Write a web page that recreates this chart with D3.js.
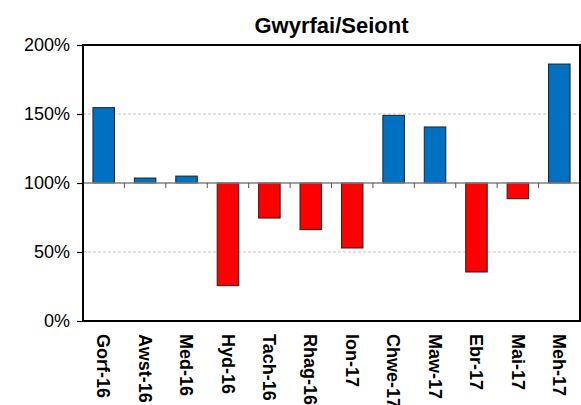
<!DOCTYPE html>
<html>
<head>
<meta charset="utf-8">
<script src="https://cdn.jsdelivr.net/npm/d3@7"></script>
<style>
  body { margin: 0; background: #fff; }
  text { font-family: "Liberation Sans", Arial, sans-serif; }
</style>
</head>
<body>
<div id="chart"></div>
<script>
// data
const months = ["Gorf-16","Awst-16","Med-16","Hyd-16","Tach-16","Rhag-16",
                "Ion-17","Chwe-17","Maw-17","Ebr-17","Mai-17","Meh-17"];
const values = [154.6, 103.6, 105, 25.6, 74.6, 66.2, 52.9, 149, 140.6, 35.5, 88.6, 186.2];
const yTicks = [0, 50, 100, 150, 200];
const baseline = 100;

const margin = { top: 45, right: 1, bottom: 84, left: 83 },
      width  = 581 - margin.left - margin.right,
      height = 405 - margin.top  - margin.bottom;

const svg = d3.select("#chart")
  .append("svg")
    .attr("width", 581)
    .attr("height", 405)
  .append("g")
    .attr("transform", `translate(${margin.left},${margin.top})`);

const x = d3.scaleBand()
  .domain(months)
  .range([0, width])
  .paddingInner(0.48)
  .paddingOuter(0.24);

const y = d3.scaleLinear()
  .domain([0, 200])
  .range([height, 0]);

// dashed grid
svg.append("g")
  .selectAll("line")
  .data(yTicks.filter(d => d !== 0 && d !== 200 && d !== baseline))
  .enter().append("line")
    .attr("x1", 0).attr("x2", width)
    .attr("y1", d => y(d)).attr("y2", d => y(d))
    .attr("stroke", "#c4c4c4")
    .attr("stroke-dasharray", "3,2")
    .attr("stroke-width", 1);

// bars
svg.selectAll(".bar")
  .data(months.map((m, i) => ({ m, v: values[i] })))
  .enter().append("rect")
    .attr("class", "bar")
    .attr("x", d => x(d.m))
    .attr("width", x.bandwidth())
    .attr("y", d => y(Math.max(d.v, baseline)))
    .attr("height", d => Math.abs(y(d.v) - y(baseline)))
    .attr("fill", d => d.v >= baseline ? "#0070C0" : "#FF0000")
    .attr("stroke", "#222")
    .attr("stroke-width", 1);

// 100% baseline with category ticks
svg.append("line")
  .attr("x1", 0).attr("x2", width)
  .attr("y1", y(baseline)).attr("y2", y(baseline))
  .attr("stroke", "#808080")
  .attr("stroke-width", 1.5);

const step = x.step();
svg.append("g")
  .selectAll("line")
  .data(months.slice(1))
  .enter().append("line")
    .attr("x1", (d, i) => (i + 1) * step)
    .attr("x2", (d, i) => (i + 1) * step)
    .attr("y1", y(baseline))
    .attr("y2", y(baseline) + 5)
    .attr("stroke", "#555")
    .attr("stroke-width", 1);

// plot border
svg.append("rect")
  .attr("x", 0).attr("y", 0)
  .attr("width", width).attr("height", height)
  .attr("fill", "none")
  .attr("stroke", "#000")
  .attr("stroke-width", 2);

// y axis
const yAxis = svg.append("g")
  .call(d3.axisLeft(y).tickValues(yTicks).tickSize(6).tickPadding(7).tickFormat(d => d + "%"));
yAxis.select(".domain").remove();
yAxis.selectAll(".tick line").attr("stroke", "#000").attr("stroke-width", 1.2);
yAxis.selectAll("text")
  .attr("font-size", "18px")
  .attr("font-family", "Liberation Sans, Arial, sans-serif")
  .attr("fill", "#000");

// x labels, rotated
svg.append("g")
  .selectAll("text")
  .data(months)
  .enter().append("text")
    .attr("transform", d => `translate(${x(d) + x.bandwidth() / 2},${height + 13}) rotate(90)`)
    .attr("dy", "0.35em")
    .attr("text-anchor", "start")
    .attr("font-size", "18px")
    .attr("font-weight", "bold")
    .text(d => d);

// title
svg.append("text")
  .attr("x", width / 2)
  .attr("y", -12)
  .attr("text-anchor", "middle")
  .attr("font-size", "22px")
  .attr("font-weight", "bold")
  .text("Gwyrfai/Seiont");
</script>
</body>
</html>
